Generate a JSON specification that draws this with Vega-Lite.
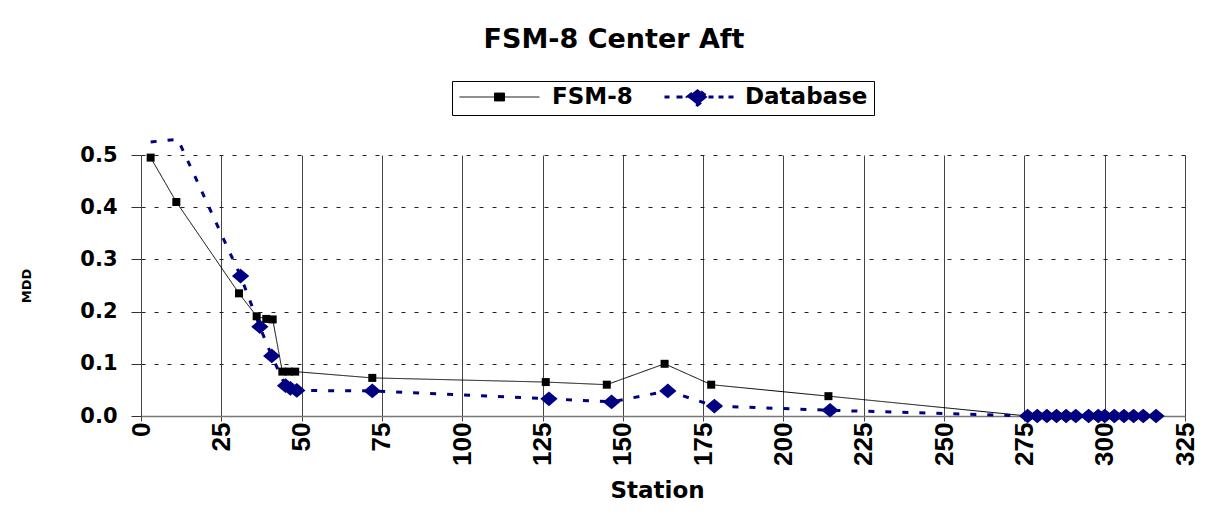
{
  "$schema": "https://vega.github.io/schema/vega-lite/v6.json",
  "autosize": {"type": "none"},
  "width": 1044,
  "height": 261,
  "padding": {"left": 141, "top": 155, "right": 37, "bottom": 107},
  "background": "white",
  "title": {
    "text": "FSM-8 Center Aft",
    "font": "DejaVu Sans",
    "fontSize": 27,
    "fontWeight": "bold",
    "color": "black",
    "anchor": "middle",
    "frame": "group",
    "baseline": "alphabetic",
    "offset": 6,
    "dx": -49
  },
  "data": {
    "values": [
      {"Series": "FSM-8", "Station": 3, "MDD": 0.495},
      {"Series": "FSM-8", "Station": 11, "MDD": 0.41},
      {"Series": "FSM-8", "Station": 30.5, "MDD": 0.235},
      {"Series": "FSM-8", "Station": 36, "MDD": 0.191},
      {"Series": "FSM-8", "Station": 39, "MDD": 0.186},
      {"Series": "FSM-8", "Station": 41, "MDD": 0.185},
      {"Series": "FSM-8", "Station": 44, "MDD": 0.085},
      {"Series": "FSM-8", "Station": 46, "MDD": 0.085},
      {"Series": "FSM-8", "Station": 48, "MDD": 0.085},
      {"Series": "FSM-8", "Station": 72, "MDD": 0.073},
      {"Series": "FSM-8", "Station": 126, "MDD": 0.065},
      {"Series": "FSM-8", "Station": 145, "MDD": 0.06},
      {"Series": "FSM-8", "Station": 163, "MDD": 0.1},
      {"Series": "FSM-8", "Station": 177.5, "MDD": 0.06},
      {"Series": "FSM-8", "Station": 214, "MDD": 0.038},
      {"Series": "FSM-8", "Station": 276, "MDD": 0},
      {"Series": "FSM-8", "Station": 279, "MDD": 0},
      {"Series": "FSM-8", "Station": 282, "MDD": 0},
      {"Series": "FSM-8", "Station": 285, "MDD": 0},
      {"Series": "FSM-8", "Station": 288, "MDD": 0},
      {"Series": "FSM-8", "Station": 291, "MDD": 0},
      {"Series": "FSM-8", "Station": 295, "MDD": 0},
      {"Series": "FSM-8", "Station": 298, "MDD": 0},
      {"Series": "FSM-8", "Station": 300, "MDD": 0},
      {"Series": "FSM-8", "Station": 303, "MDD": 0},
      {"Series": "FSM-8", "Station": 306, "MDD": 0},
      {"Series": "FSM-8", "Station": 309, "MDD": 0},
      {"Series": "FSM-8", "Station": 312, "MDD": 0},
      {"Series": "FSM-8", "Station": 316, "MDD": 0},
      {"Series": "Database", "Station": 3, "MDD": 0.525},
      {"Series": "Database", "Station": 11.5, "MDD": 0.53},
      {"Series": "Database", "Station": 31, "MDD": 0.268},
      {"Series": "Database", "Station": 37, "MDD": 0.171},
      {"Series": "Database", "Station": 40.7, "MDD": 0.115},
      {"Series": "Database", "Station": 45, "MDD": 0.058},
      {"Series": "Database", "Station": 46.5, "MDD": 0.053},
      {"Series": "Database", "Station": 48.5, "MDD": 0.049},
      {"Series": "Database", "Station": 72, "MDD": 0.048},
      {"Series": "Database", "Station": 127, "MDD": 0.033},
      {"Series": "Database", "Station": 146.5, "MDD": 0.027},
      {"Series": "Database", "Station": 164, "MDD": 0.048},
      {"Series": "Database", "Station": 178.5, "MDD": 0.019},
      {"Series": "Database", "Station": 214.5, "MDD": 0.011},
      {"Series": "Database", "Station": 276, "MDD": 0},
      {"Series": "Database", "Station": 279, "MDD": 0},
      {"Series": "Database", "Station": 282, "MDD": 0},
      {"Series": "Database", "Station": 285, "MDD": 0},
      {"Series": "Database", "Station": 288, "MDD": 0},
      {"Series": "Database", "Station": 291, "MDD": 0},
      {"Series": "Database", "Station": 295, "MDD": 0},
      {"Series": "Database", "Station": 298, "MDD": 0},
      {"Series": "Database", "Station": 300, "MDD": 0},
      {"Series": "Database", "Station": 303, "MDD": 0},
      {"Series": "Database", "Station": 306, "MDD": 0},
      {"Series": "Database", "Station": 309, "MDD": 0},
      {"Series": "Database", "Station": 312, "MDD": 0},
      {"Series": "Database", "Station": 316, "MDD": 0}
    ]
  },
  "encoding": {
    "x": {
      "field": "Station",
      "type": "quantitative",
      "scale": {"domain": [0, 325], "nice": false, "zero": false},
      "axis": {
        "title": "Station",
        "values": [0, 25, 50, 75, 100, 125, 150, 175, 200, 225, 250, 275, 300, 325],
        "labelAngle": -90,
        "labelFont": "Liberation Sans",
        "labelFontSize": 26,
        "labelFontWeight": "bold",
        "labelColor": "black",
        "labelPadding": 1,
        "labelFlush": false,
        "labelOverlap": false,
        "tickSize": 5,
        "tickColor": "#444",
        "domainColor": "#777",
        "domainWidth": 1.5,
        "grid": true,
        "gridColor": "#444",
        "gridOpacity": 1,
        "gridWidth": 1,
        "titleFont": "DejaVu Sans",
        "titleFontSize": 23,
        "titleFontWeight": "bold",
        "titleColor": "black",
        "titlePadding": 14,
        "titleX": 516
      }
    },
    "y": {
      "field": "MDD",
      "type": "quantitative",
      "scale": {"domain": [0, 0.5], "nice": false},
      "axis": {
        "title": "MDD",
        "values": [0, 0.1, 0.2, 0.3, 0.4, 0.5],
        "format": ".1f",
        "labelFont": "DejaVu Sans",
        "labelFontSize": 21,
        "labelFontWeight": "bold",
        "labelColor": "black",
        "labelPadding": 14,
        "labelFlush": false,
        "tickSize": 10,
        "tickColor": "#333",
        "domainColor": "#444",
        "grid": true,
        "gridColor": "#222",
        "gridDash": [4, 9],
        "gridOpacity": 1,
        "titleFont": "DejaVu Sans",
        "titleFontSize": 13,
        "titleFontWeight": "bold",
        "titleColor": "black",
        "titlePadding": 46
      }
    }
  },
  "layer": [
    {
      "mark": {"type": "line", "clip": false},
      "encoding": {
        "color": {
          "field": "Series",
          "type": "nominal",
          "scale": {"domain": ["FSM-8", "Database"], "range": ["black", "#000080"]},
          "legend": {
            "orient": "none",
            "legendX": 311,
            "legendY": -74,
            "direction": "horizontal",
            "title": null,
            "strokeColor": "black",
            "padding": 6,
            "fillColor": "white",
            "clipHeight": 20,
            "symbolSize": 400,
            "columnPadding": 18,
            "labelOffset": 71,
            "labelFont": "DejaVu Sans",
            "labelFontSize": 23,
            "labelFontWeight": "bold",
            "labelColor": "black",
            "labelLimit": 300,
            "encode": {
              "symbols": {
                "update": {
                  "shape": {"signal": "datum.value === 'FSM-8' ? 'M-1,0H7M2.5,-0.4H3.5V0.4H2.5Z' : 'M0.2,0H0.7M1.4,0H2M4.6,0H5.1M5.6,0H6.1M6.6,0H7.1M2.5,0L3.5,-0.8L4.5,0L3.5,0.8Z'"},
                  "fill": {"signal": "datum.value === 'FSM-8' ? 'black' : '#000080'"},
                  "stroke": {"signal": "datum.value === 'FSM-8' ? '#222' : '#000080'"},
                  "strokeWidth": {"signal": "datum.value === 'FSM-8' ? 1 : 3"},
                  "strokeDash": {"value": [1, 0]},
                  "size": {"value": 400},
                  "opacity": {"value": 1}
                }
              }
            }
          }
        },
        "strokeDash": {
          "field": "Series",
          "type": "nominal",
          "scale": {"domain": ["FSM-8", "Database"], "range": [[1, 0], [6, 11]]},
          "legend": null
        },
        "strokeWidth": {
          "condition": {"test": "datum.Series === 'Database'", "value": 3},
          "value": 1
        }
      }
    },
    {
      "transform": [{"filter": "datum.MDD <= 0.5"}],
      "mark": {"type": "point", "filled": true, "opacity": 1, "clip": false},
      "encoding": {
        "color": {
          "condition": {"test": "datum.Series === 'Database'", "value": "#000080"},
          "value": "black"
        },
        "shape": {
          "condition": {"test": "datum.Series === 'Database'", "value": "M-1,0L0,-0.85L1,0L0,0.85Z"},
          "value": "square"
        },
        "size": {
          "condition": {"test": "datum.Series === 'Database'", "value": 300},
          "value": 64
        }
      }
    }
  ],
  "config": {
    "view": {"stroke": null}
  }
}
